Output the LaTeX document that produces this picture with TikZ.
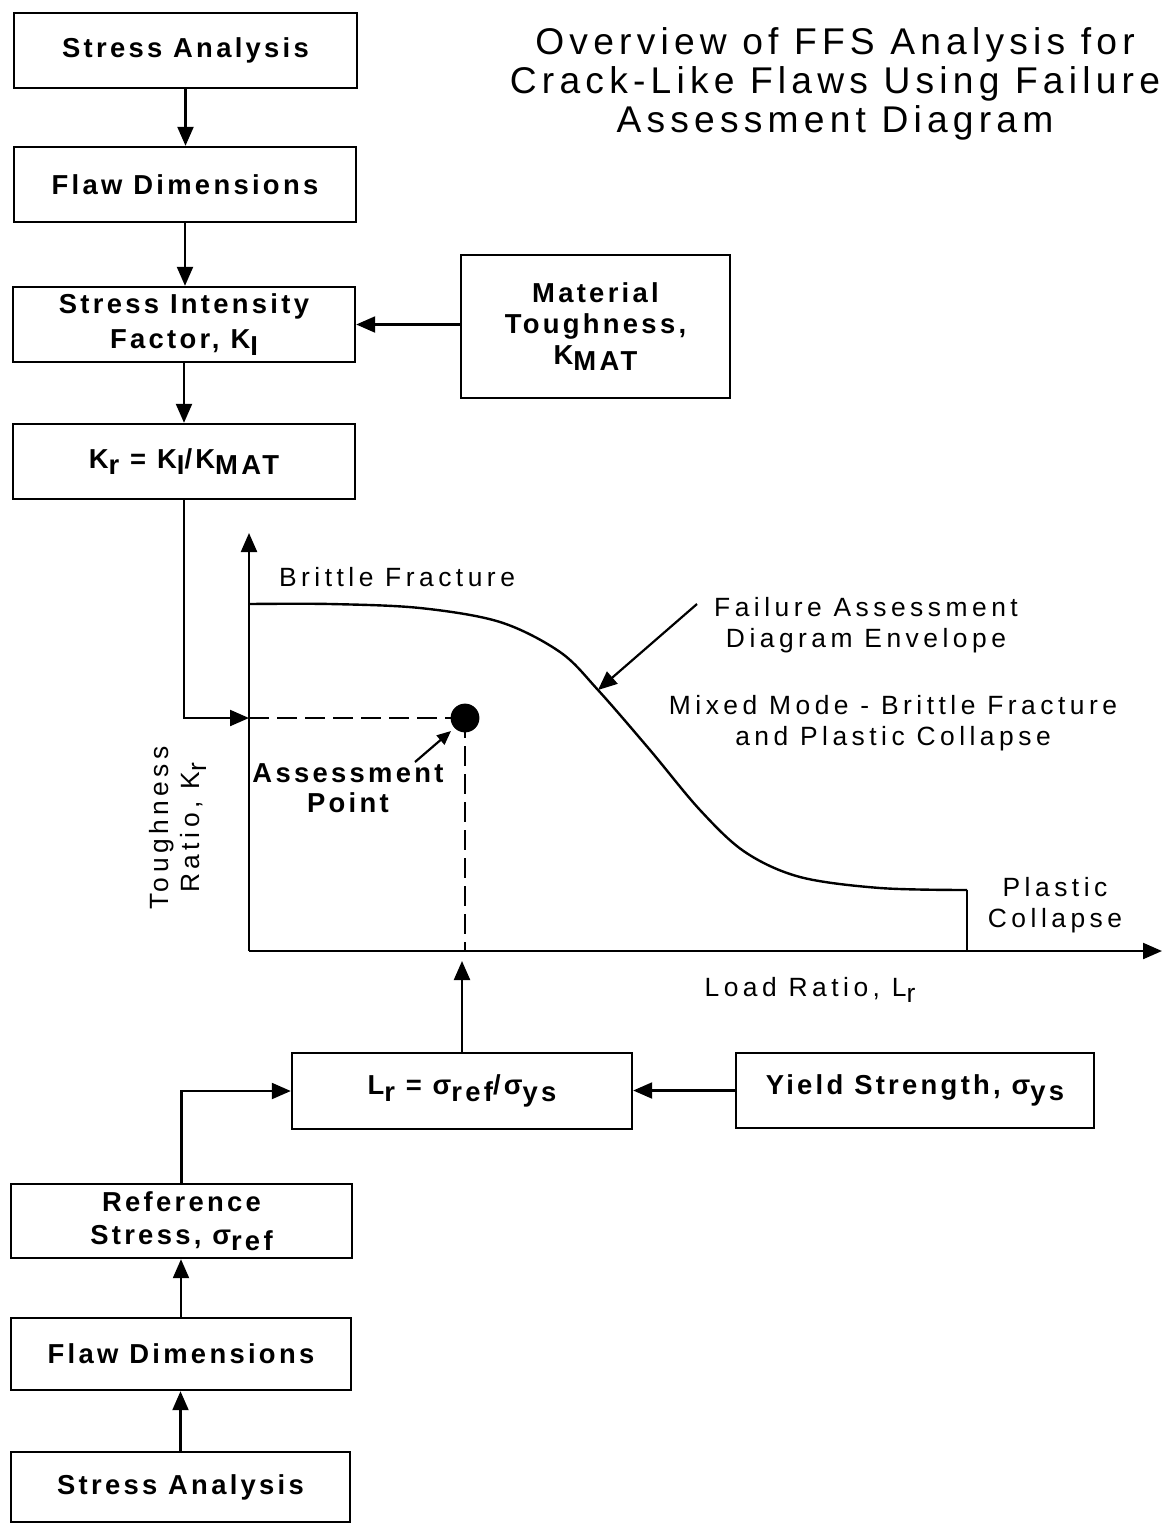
\documentclass[tikz,border=0pt]{standalone}
\usepackage{fontspec}
\usetikzlibrary{arrows.meta}
\newfontfamily\bxf[LetterSpace=12]{Liberation Sans}
\newfontfamily\lbf[LetterSpace=17]{Liberation Sans}
\newfontfamily\ttlf[LetterSpace=14]{Liberation Sans}
\newcommand\sbs[1]{\raisebox{-0.45ex}{#1}}
\begin{document}
\begin{tikzpicture}[x=0.5pt,y=-0.5pt,
  box/.style={draw, line width=1.2pt, align=center, inner sep=0pt,
    font=\bxf\fontsize{13.7}{17.5}\bfseries},
  lbl/.style={align=center, inner sep=0pt, font=\lbf\fontsize{13.2}{15.5}\selectfont},
  blbl/.style={align=center, inner sep=0pt, font=\bxf\fontsize{13.7}{15}\bfseries},
  arr/.style={line width=1.1pt, -{Triangle[length=9.5pt,width=8pt]}},
  arrs/.style={line width=1.1pt, -{Triangle[length=7pt,width=6pt]}},
  dsh/.style={line width=1.1pt, dash pattern=on 10pt off 4pt}]
\path[fill=white, use as bounding box] (0,0) rectangle (1173,1523);

% title
\node[align=center, inner sep=0pt, font=\ttlf\fontsize{18.6}{19.4}\selectfont] (title) at (835,84)
  {Overview of FFS Analysis for\\Crack-Like Flaws Using Failure\\Assessment Diagram};

% boxes
\node[box, minimum width=171.5pt, minimum height=37.5pt] (sa1) at (185.5,50.5) {Stress Analysis};
\node[box, minimum width=171pt, minimum height=37.5pt] (fd1) at (185,184.5) {Flaw Dimensions};
\node[box, minimum width=171pt, minimum height=37.5pt] (sif) at (184,324.5) {Stress Intensity\\Factor, K\sbs{I}};
\node[box, minimum width=171pt, minimum height=37.5pt] (kr) at (184,461.5) {K\sbs{r} = K\sbs{I}/K\sbs{MAT}};
\node[box, line width=1pt, minimum width=134.5pt, minimum height=71.5pt, font=\bxf\fontsize{13.7}{15.5}\bfseries] (mt) at (595.5,326.5) {Material\\Toughness,\\K\sbs{MAT}};
\node[box, minimum width=170pt, minimum height=38pt] (lr) at (462,1091) {L\sbs{r} = σ\sbs{ref}/σ\sbs{ys}};
\node[box, minimum width=179pt, minimum height=37.5pt] (ys) at (915,1090.5) {Yield Strength, σ\sbs{ys}};
\node[box, minimum width=170.5pt, minimum height=37pt, font=\bxf\fontsize{13.7}{16.5}\bfseries] (rs) at (181.5,1221) {Reference\\Stress, σ\sbs{ref}};
\node[box, minimum width=170pt, minimum height=36pt] (fd2) at (181,1354) {Flaw Dimensions};
\node[box, minimum width=169.5pt, minimum height=35pt] (sa2) at (180.5,1487) {Stress Analysis};

% axes
\coordinate (O) at (249,951);
\coordinate (ytop) at (249,533);
\coordinate (xend) at (1162,951);
\coordinate (P) at (465,718);
\draw[arr] (O) -- (ytop);
\draw[arr] (O) -- (xend);

% flow connectors
\draw[arr] (sa1.south) -- (sa1.south |- fd1.north);
\draw[arr] (fd1.south) -- (fd1.south |- sif.north);
\draw[arr] (sif.south) -- (sif.south |- kr.north);
\draw[arr] (mt.west |- sif.east) -- (sif.east);
\draw[arr] (kr.south) |- (O |- P);
\draw[dsh] (O |- P) -- (P);
\draw[dsh] (P) -- (P |- O);
\draw[arr] (lr.north) -- ([yshift=-5pt]lr.north |- O);
\draw[arr] (ys.west) -- (ys.west -| lr.east);
\draw[arr] (rs.north) |- (lr.west);
\draw[arr] (fd2.north) -- (fd2.north |- rs.south);
\draw[arr] (sa2.north) -- (sa2.north |- fd2.south);

% FAD curve
\coordinate (c1) at (598,690);
\coordinate (ce) at (967,890);
\draw[line width=1.2pt] plot[smooth, tension=0.55] coordinates
  {(250,604) (330,604) (420,608) (500,622) (560,652) (598,690) (650,750) (700,810) (745,852) (800,877) (880,888) (967,890)};
\draw[line width=1.3pt] (ce) -- (ce |- O);

% assessment point
\fill (P) circle[radius=7.2pt];
\coordinate (a1) at (415,762);
\draw[arrs] (a1) -- (451,731);

\coordinate (f1) at (697,604);
\draw[arr] (f1) -- (c1);

% labels
\node[lbl] (bf) at (397,577) {Brittle Fracture};
\node[lbl] (fae) at (866,625) {Failure Assessment\\Diagram Envelope};
\node[lbl] (mm) at (893,723) {Mixed Mode - Brittle Fracture\\and Plastic Collapse};
\node[blbl] (ap) at (348,788) {Assessment\\Point};
\node[lbl, rotate=90] (tr) at (178,828) {Toughness\\Ratio, K\sbs{r}};
\node[lbl] (pc) at (1055,905) {Plastic\\Collapse};
\node[lbl] (lrl) at (810,990) {Load Ratio, L\sbs{r}};
\end{tikzpicture}
\end{document}
